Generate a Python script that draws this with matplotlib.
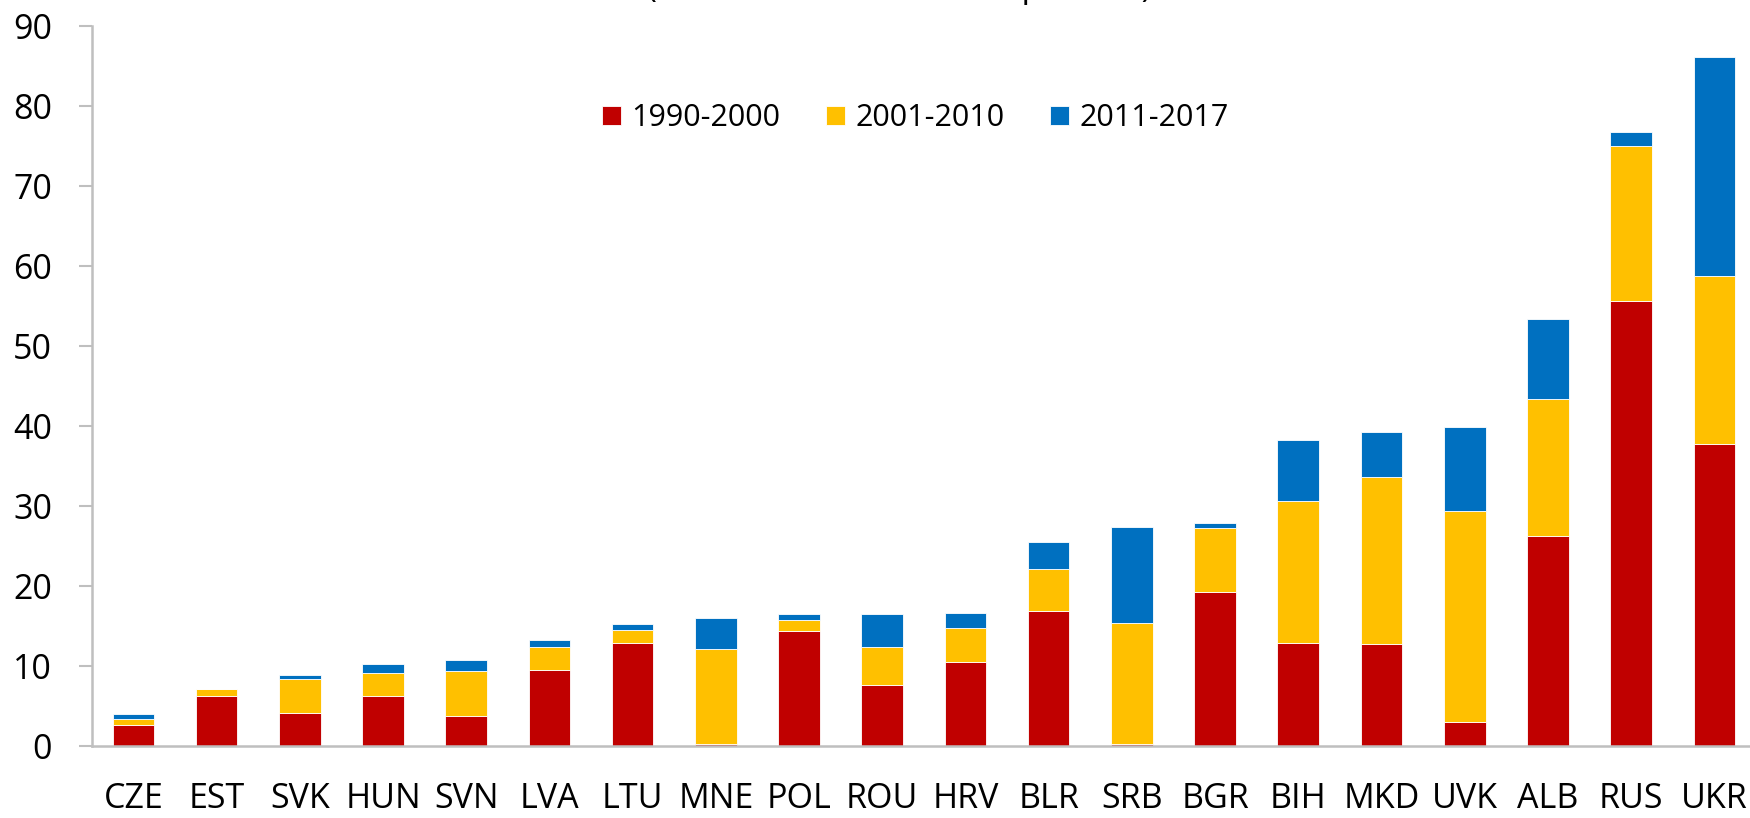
import matplotlib.pyplot as plt
import numpy as np

plt.rcParams['font.family'] = ['Open Sans', 'DejaVu Sans']

# Países y emigración acumulada por periodo (% de la población)
paises = ['CZE', 'EST', 'SVK', 'HUN', 'SVN', 'LVA', 'LTU', 'MNE', 'POL', 'ROU',
          'HRV', 'BLR', 'SRB', 'BGR', 'BIH', 'MKD', 'UVK', 'ALB', 'RUS', 'UKR']
p1990_2000 = [2.6, 6.25, 4.1, 6.25, 3.7, 9.55, 12.9, 0.3, 14.4, 7.65,
              10.45, 16.9, 0.3, 19.2, 12.9, 12.7, 3.0, 26.3, 55.65, 37.8]
p2001_2010 = [0.8, 0.85, 4.3, 2.85, 5.7, 2.85, 1.6, 11.85, 1.4, 4.75,
              4.25, 5.2, 15.1, 8.0, 17.7, 20.9, 26.4, 17.1, 19.35, 21.0]
p2011_2017 = [0.6, 0.05, 0.5, 1.1, 1.4, 0.8, 0.8, 3.85, 0.7, 4.1,
              1.9, 3.4, 12.0, 0.7, 7.6, 5.7, 10.5, 10.0, 1.8, 27.4]
periodos = ['1990-2000', '2001-2010', '2011-2017']
colores = ['#C00000', '#FFC000', '#0070C0']

fig = plt.figure(figsize=(17.5, 8.18), dpi=100)
ax = fig.add_axes([0.0524, 0.088, 0.951, 0.880])

x = np.arange(len(paises))
base = np.zeros(len(paises))
for valores, nombre, color in zip([p1990_2000, p2001_2010, p2011_2017], periodos, colores):
    ax.bar(x, valores, width=0.5, bottom=base, color=color, label=nombre,
           edgecolor='white', linewidth=0.6)
    base += np.array(valores)

# Ejes
ax.set_xlim(-0.5, len(paises) - 0.5)
ax.set_ylim(0, 90)
ax.set_yticks(range(0, 91, 10))
ax.set_xticks(x)
ax.set_xticklabels(paises)
ax.tick_params(axis='y', labelsize=24.5, length=9.5, width=1.5, color='#BFBFBF', pad=19)
ax.tick_params(axis='x', labelsize=24.5, length=0, pad=26)
for s in ['top', 'right']:
    ax.spines[s].set_visible(False)
for s in ['left', 'bottom']:
    ax.spines[s].set_color('#BFBFBF')
    ax.spines[s].set_linewidth(1.8)

ax.legend(loc='center', bbox_to_anchor=(0.495, 0.872), ncol=3, frameon=False,
          fontsize=22, handlelength=0.6, handleheight=0.6, handletextpad=0.35,
          columnspacing=1.5)

# Subtítulo (queda recortado por el borde superior)
fig.text(0.514, 1.0 + 3 / 818, '(Cumulative outflows in percent)', ha='center',
         va='baseline', fontsize=24)

plt.savefig('out.png', dpi=100)
